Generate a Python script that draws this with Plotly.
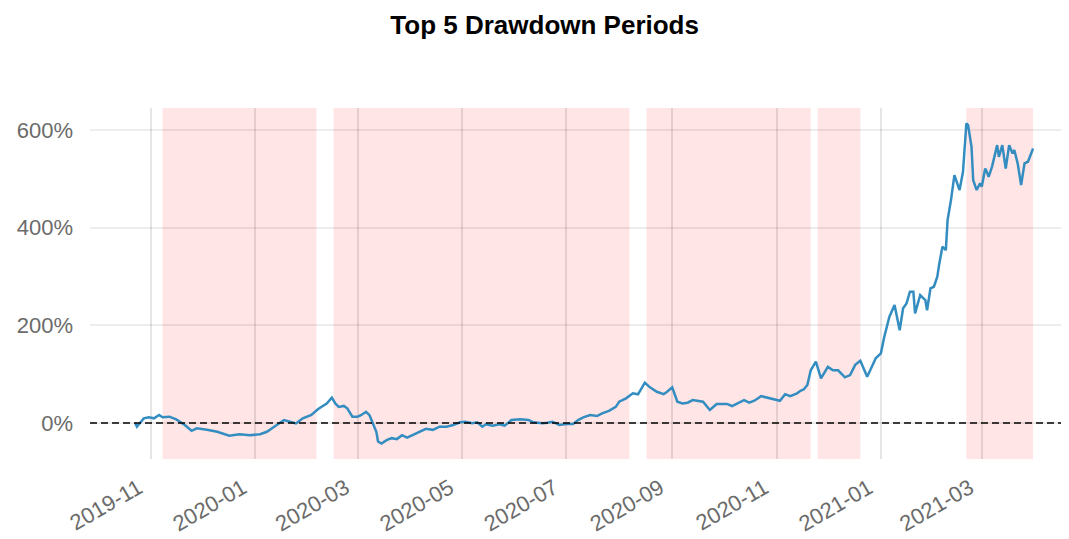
import plotly.graph_objects as go

# ---- data (cumulative return, %) ----
dates = [
    "2019-10-23", "2019-10-24", "2019-10-28", "2019-10-31", "2019-11-03", "2019-11-06", "2019-11-08",
    "2019-11-12", "2019-11-16", "2019-11-21", "2019-11-25", "2019-11-28", "2019-12-04", "2019-12-10",
    "2019-12-17", "2019-12-23", "2019-12-29", "2020-01-04", "2020-01-08", "2020-01-14", "2020-01-18",
    "2020-01-21", "2020-01-25", "2020-01-29", "2020-02-03", "2020-02-07", "2020-02-12", "2020-02-15",
    "2020-02-17", "2020-02-19", "2020-02-22", "2020-02-24", "2020-02-27", "2020-03-01", "2020-03-03",
    "2020-03-06", "2020-03-08", "2020-03-10", "2020-03-12", "2020-03-13", "2020-03-15", "2020-03-18",
    "2020-03-21", "2020-03-24", "2020-03-27", "2020-03-30", "2020-04-03", "2020-04-06", "2020-04-10",
    "2020-04-14", "2020-04-18", "2020-04-22", "2020-04-26", "2020-04-30", "2020-05-03", "2020-05-07",
    "2020-05-10", "2020-05-13", "2020-05-15", "2020-05-19", "2020-05-23", "2020-05-26", "2020-05-30",
    "2020-06-04", "2020-06-09", "2020-06-12", "2020-06-15", "2020-06-17", "2020-06-20", "2020-06-23",
    "2020-06-27", "2020-07-01", "2020-07-05", "2020-07-08", "2020-07-11", "2020-07-15", "2020-07-19",
    "2020-07-22", "2020-07-26", "2020-07-30", "2020-08-01", "2020-08-05", "2020-08-09", "2020-08-12",
    "2020-08-16", "2020-08-19", "2020-08-23", "2020-08-27", "2020-08-29", "2020-09-01", "2020-09-04",
    "2020-09-07", "2020-09-10", "2020-09-13", "2020-09-19", "2020-09-23", "2020-09-27", "2020-10-03",
    "2020-10-06", "2020-10-13", "2020-10-16", "2020-10-19", "2020-10-23", "2020-10-26", "2020-10-30",
    "2020-11-03", "2020-11-06", "2020-11-09", "2020-11-13", "2020-11-15", "2020-11-17", "2020-11-19",
    "2020-11-21", "2020-11-24", "2020-11-27", "2020-12-01", "2020-12-04", "2020-12-07", "2020-12-11",
    "2020-12-14", "2020-12-17", "2020-12-20", "2020-12-24", "2020-12-26", "2020-12-29", "2021-01-01",
    "2021-01-03", "2021-01-06", "2021-01-09", "2021-01-12", "2021-01-14", "2021-01-16", "2021-01-18",
    "2021-01-20", "2021-01-21", "2021-01-24", "2021-01-27", "2021-01-28", "2021-01-30", "2021-02-01",
    "2021-02-03", "2021-02-04", "2021-02-06", "2021-02-08", "2021-02-09", "2021-02-11", "2021-02-13",
    "2021-02-16", "2021-02-18", "2021-02-20", "2021-02-21", "2021-02-23", "2021-02-24", "2021-02-26",
    "2021-02-28", "2021-03-01", "2021-03-03", "2021-03-04", "2021-03-05", "2021-03-07", "2021-03-10",
    "2021-03-11", "2021-03-13", "2021-03-15", "2021-03-17", "2021-03-19", "2021-03-20", "2021-03-22",
    "2021-03-24", "2021-03-26", "2021-03-28", "2021-03-31",
]
returns_pct = [
    0, -7.5, 9.5, 11.7, 9.6, 16.4, 11.7,
    13, 7.5, -4, -16, -11, -14, -18,
    -26, -23, -25, -23, -18, -3, 6,
    3, -1, 9.6, 16.4, 28.7, 40, 52,
    40, 33, 35, 30, 13, 13, 16,
    23, 16, -1, -18, -38, -42, -35,
    -31, -33, -25, -30, -23, -18, -12,
    -14, -7.5, -7.5, -4, 1.4, 2.7, -0.6,
    1.4, -7.5, -2.7, -5.5, -2.7, -5.5, 6,
    7.5, 6, 1.4, -0.6, -0.6, 0.6, 2.7,
    -4, -2, -2, 6, 11.6, 16.4, 14.3,
    19.8, 25, 33, 43.6, 50.5, 60.8, 58.7,
    82.5, 73, 64, 59, 64, 73, 43.6,
    40, 41.6, 47, 43.6, 26.6, 39, 39,
    34.8, 47, 41.6, 45.6, 55, 52.6, 48.5,
    45.6, 59, 55, 60.8, 66, 69, 77.8,
    108, 125.5, 91.5, 115, 108, 108, 93.5,
    98, 119, 127.5, 94.8, 110, 132.4, 142.6,
    176.7, 217.6, 241.5, 190, 234.8, 245, 268.8,
    268.8, 224.5, 262, 251.8, 231, 275.7, 279,
    299.5, 323, 361, 354, 415.5, 456.5, 507.7,
    477, 514, 613.5, 610, 565.6, 497, 477,
    490.6, 484, 521, 514, 504, 525, 569,
    545, 569, 521, 569, 552, 559, 531.6,
    487, 531.6, 535, 562,
]

# top 5 drawdown periods
dd_starts = ["2019-11-08", "2020-02-16", "2020-08-17", "2020-11-25", "2021-02-20"]
dd_ends = ["2020-02-06", "2020-08-07", "2020-11-21", "2020-12-20", "2021-03-31"]

title_text = "Top 5 Drawdown Periods"
y_ticks = [0, 200, 400, 600]
y_tick_labels = ["0%", "200%", "400%", "600%"]

FONT = "Liberation Sans, Arial, sans-serif"
TICK_COLOR = "#6b6b6b"

fig = go.Figure()
fig.add_trace(go.Scatter(
    x=dates, y=returns_pct, mode="lines",
    line=dict(color="#348dc1", width=2.5),
    hoverinfo="x+y", showlegend=False,
))

for s, e in zip(dd_starts, dd_ends):
    fig.add_shape(type="rect", xref="x", yref="paper", x0=s, x1=e, y0=0, y1=1,
                  fillcolor="rgba(255,0,0,0.1)", line=dict(width=0), layer="below")

fig.add_shape(type="line", xref="paper", yref="y", x0=0, x1=1, y0=0, y1=0,
              line=dict(color="black", width=1.5, dash="7px,4px"), layer="above")

fig.update_layout(
    width=1069, height=539,
    margin=dict(l=82, r=8, t=100, b=88),
    paper_bgcolor="white", plot_bgcolor="white",
    title=dict(text="<b>" + title_text + "</b>", x=0.502, xref="container", xanchor="center",
               y=1 - 17 / 539, yref="container", yanchor="middle",
               font=dict(family=FONT, size=26, color="black")),
    font=dict(family=FONT, size=21, color=TICK_COLOR),
)
fig.update_xaxes(
    type="date", range=["2019-09-26 14:00", "2021-04-21"],
    tick0="2019-11-01", dtick="M2", tickformat="%Y-%m", tickangle=-30,
    showgrid=True, gridcolor="rgba(0,0,0,0.1)", gridwidth=1.5, zeroline=False,
    showline=False, ticks="", ticklabelstandoff=11, ticklabelshift=-12,
    tickfont=dict(family=FONT, size=22, color=TICK_COLOR),
)
fig.update_yaxes(
    range=[-73.7, 645], tickvals=y_ticks, ticktext=y_tick_labels,
    showgrid=True, gridcolor="rgba(0,0,0,0.07)", gridwidth=1.5, zeroline=False,
    showline=False, ticks="", ticklabelstandoff=16,
    tickfont=dict(family=FONT, size=22, color=TICK_COLOR),
)

fig.write_html("out.html")
